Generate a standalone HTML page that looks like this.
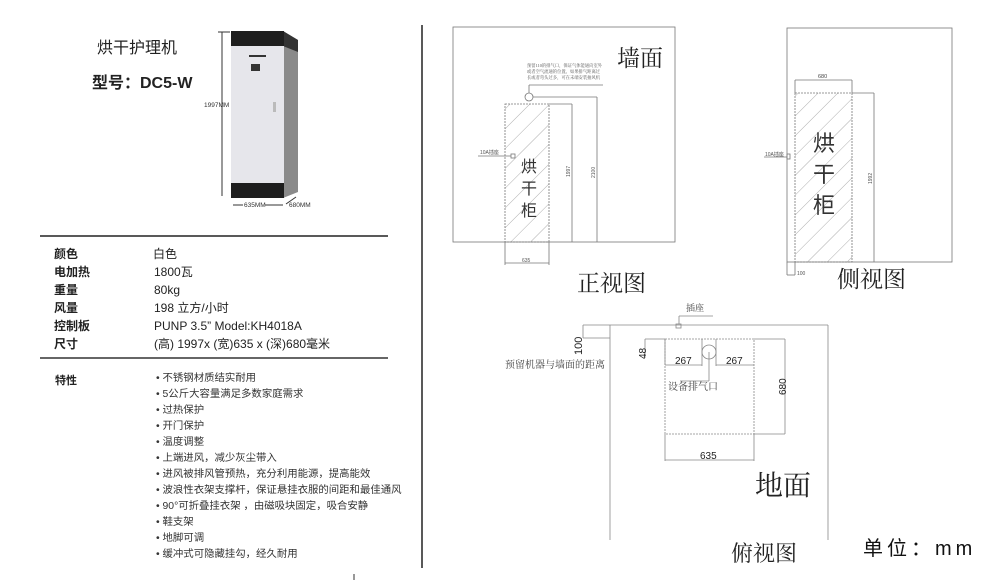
<!DOCTYPE html>
<html><head><meta charset="utf-8"><style>
html,body{margin:0;padding:0;background:#fff;width:1000px;height:584px;overflow:hidden}
svg{display:block}
.s{font-family:"Liberation Sans","Noto Sans CJK SC",sans-serif}
.r{font-family:"Liberation Serif","Noto Serif CJK SC",serif}
</style></head><body>
<svg width="1000" height="584" viewBox="0 0 1000 584" xmlns="http://www.w3.org/2000/svg">
<defs>
<pattern id="h" width="14" height="14" patternUnits="userSpaceOnUse" patternTransform="rotate(45)">
<line x1="0" y1="0" x2="0" y2="14" stroke="#999" stroke-width="0.8"/>
</pattern>
</defs>
<text x="97" y="53" class="s" font-size="16" fill="#222">烘干护理机</text>
<text x="92" y="88" class="s" font-size="16" font-weight="bold" fill="#222">型号：DC5-W</text>
<polygon points="283,31 298,40 298,192 283,198" fill="#8a8a8a"/>
<polygon points="283,31 298,40 298,52 283,46" fill="#333"/>
<rect x="231" y="31" width="53" height="15" fill="#1e1e1e"/>
<rect x="231" y="46" width="53" height="137" fill="#e6e6eb"/>
<rect x="231" y="183" width="53" height="15" fill="#1e1e1e"/>
<rect x="249" y="55" width="17" height="2" fill="#333"/>
<rect x="251" y="64" width="9" height="7" fill="#333"/>
<rect x="273" y="102" width="3" height="10" fill="#bbb"/>
<line x1="222" y1="32" x2="222" y2="196" stroke="#333" stroke-width="1"/>
<line x1="218" y1="32" x2="230" y2="32" stroke="#333"/>
<text x="204" y="107" class="s" font-size="6.5" fill="#333">1997MM</text>
<line x1="233" y1="205" x2="283" y2="205" stroke="#333"/>
<rect x="243" y="201" width="22" height="7" fill="#fff"/>
<text x="244" y="207" class="s" font-size="6.5" fill="#333">635MM</text>
<line x1="286" y1="204" x2="296" y2="197" stroke="#333"/>
<text x="289" y="207" class="s" font-size="6.5" fill="#333">680MM</text>
<line x1="40" y1="236" x2="388" y2="236" stroke="#222" stroke-width="1.5"/>
<line x1="40" y1="358" x2="388" y2="358" stroke="#333" stroke-width="1.5"/>
<g class="s" font-size="12" fill="#222">
<text x="54" y="258" font-weight="bold">颜色</text><text x="153" y="258">白色</text>
<text x="54" y="276" font-weight="bold">电加热</text><text x="154" y="276">1800瓦</text>
<text x="54" y="294" font-weight="bold">重量</text><text x="154" y="294">80kg</text>
<text x="54" y="312" font-weight="bold">风量</text><text x="154" y="312">198 立方/小时</text>
<text x="54" y="330" font-weight="bold">控制板</text><text x="154" y="330">PUNP 3.5”  Model:KH4018A</text>
<text x="54" y="348" font-weight="bold">尺寸</text><text x="154" y="348">(高) 1997x (宽)635 x (深)680毫米</text>
<text x="55" y="384" font-weight="bold" font-size="11">特性</text>
</g>
<g class="s" font-size="10.4" fill="#333">
<text x="156" y="381">• 不锈钢材质结实耐用</text>
<text x="156" y="397">• 5公斤大容量满足多数家庭需求</text>
<text x="156" y="413">• 过热保护</text>
<text x="156" y="429">• 开门保护</text>
<text x="156" y="445">• 温度调整</text>
<text x="156" y="461">• 上端进风，减少灰尘带入</text>
<text x="156" y="477">• 进风被排风管预热，充分利用能源，提高能效</text>
<text x="156" y="493">• 波浪性衣架支撑杆，保证悬挂衣服的间距和最佳通风</text>
<text x="156" y="509">• 90°可折叠挂衣架 ，由磁吸块固定，吸合安静</text>
<text x="156" y="525">• 鞋支架</text>
<text x="156" y="541">• 地脚可调</text>
<text x="156" y="557">• 缓冲式可隐藏挂勾，经久耐用</text>
</g>
<line x1="354" y1="574" x2="354" y2="580" stroke="#333"/>
<line x1="422" y1="25" x2="422" y2="568" stroke="#222" stroke-width="1.5"/>
<g stroke="#777" stroke-width="0.8" fill="none">
<rect x="453" y="27" width="222" height="215"/>
<rect x="505" y="104" width="44" height="138" fill="url(#h)" stroke-dasharray="2,1"/>
<line x1="505" y1="242" x2="505" y2="265"/><line x1="549" y1="242" x2="549" y2="265"/>
<line x1="505" y1="263" x2="549" y2="263"/>
<line x1="549" y1="104" x2="572" y2="104"/><line x1="572" y1="104" x2="572" y2="242"/>
<line x1="533" y1="97" x2="597" y2="97"/><line x1="597" y1="97" x2="597" y2="242"/>
<circle cx="529" cy="97" r="4"/>
<line x1="529" y1="93" x2="529" y2="85"/><line x1="529" y1="85" x2="603" y2="85"/>
<line x1="478" y1="156" x2="511" y2="156"/><rect x="511" y="154" width="4" height="4"/>
</g>
<g class="r" font-size="4.3" fill="#555">
<text x="527" y="67">预留110的排气口，保证气体能通向室外</text>
<text x="527" y="73">或者空气流通的位置。如果排气距离过</text>
<text x="527" y="79">长或者弯头过多，可在末端安装抽风机</text>
</g>
<text x="480" y="154" class="s" font-size="5" fill="#555">10A插座</text>
<text x="570" y="177" class="s" font-size="5" fill="#555" transform="rotate(-90 570 177)">1997</text>
<text x="595" y="178" class="s" font-size="5" fill="#555" transform="rotate(-90 595 178)">2100</text>
<text x="522" y="262" class="s" font-size="5" fill="#555">635</text>
<g class="s" font-size="16" fill="#333">
<text x="521" y="172">烘</text><text x="521" y="194">干</text><text x="521" y="216">柜</text>
</g>
<text x="617" y="66" class="r" font-size="23" fill="#222">墙面</text>
<text x="577" y="291" class="r" font-size="23" fill="#222">正视图</text>
<g stroke="#777" stroke-width="0.8" fill="none">
<rect x="787" y="28" width="165" height="234"/>
<rect x="795" y="93" width="57" height="169" fill="url(#h)" stroke-dasharray="2,1"/>
<line x1="795" y1="80" x2="852" y2="80"/><line x1="795" y1="80" x2="795" y2="93"/><line x1="852" y1="80" x2="852" y2="93"/>
<line x1="852" y1="93" x2="874" y2="93"/><line x1="874" y1="93" x2="874" y2="262"/>
<line x1="764" y1="157" x2="787" y2="157"/><rect x="787" y="154" width="3" height="5"/>
<line x1="795" y1="262" x2="795" y2="275"/><line x1="787" y1="275" x2="795" y2="275"/><line x1="787" y1="262" x2="787" y2="275"/>
</g>
<text x="818" y="78" class="s" font-size="5.5" fill="#444">680</text>
<text x="765" y="156" class="s" font-size="5" fill="#555">10A插座</text>
<text x="797" y="275" class="s" font-size="5" fill="#555">100</text>
<text x="872" y="184" class="s" font-size="5" fill="#555" transform="rotate(-90 872 184)">1992</text>
<g class="s" font-size="22" fill="#333">
<text x="813" y="151">烘</text><text x="813" y="182">干</text><text x="813" y="213">柜</text>
</g>
<text x="837" y="287" class="r" font-size="23" fill="#222">侧视图</text>
<g stroke="#888" stroke-width="0.8" fill="none">
<line x1="583" y1="325" x2="828" y2="325"/>
<line x1="610" y1="325" x2="610" y2="540"/>
<line x1="828" y1="325" x2="828" y2="540"/>
<line x1="583" y1="325" x2="583" y2="338"/><line x1="583" y1="338" x2="610" y2="338"/>
<rect x="665" y="339" width="89" height="95" stroke-dasharray="2,1"/>
<line x1="645" y1="339" x2="665" y2="339"/><line x1="645" y1="339" x2="645" y2="358"/>
<line x1="665" y1="339" x2="665" y2="365"/>
<line x1="702" y1="339" x2="702" y2="366"/><line x1="716" y1="339" x2="716" y2="366"/>
<line x1="665" y1="365" x2="702" y2="365"/><line x1="716" y1="365" x2="754" y2="365"/>
<circle cx="709" cy="352" r="7"/>
<line x1="709" y1="352" x2="709" y2="381"/><line x1="680" y1="381" x2="709" y2="381"/>
<line x1="754" y1="339" x2="785" y2="339"/><line x1="754" y1="434" x2="785" y2="434"/><line x1="785" y1="339" x2="785" y2="434"/>
<line x1="665" y1="434" x2="665" y2="461"/><line x1="754" y1="434" x2="754" y2="461"/><line x1="665" y1="460" x2="754" y2="460"/>
<line x1="679" y1="316" x2="713" y2="316"/><line x1="679" y1="316" x2="679" y2="324"/>
<rect x="676" y="324" width="5" height="4"/>
</g>
<text x="686" y="311" class="r" font-size="9" fill="#444">插座</text>
<text x="582" y="355" class="s" font-size="11" fill="#222" transform="rotate(-90 582 355)">100</text>
<text x="505" y="368" class="r" font-size="10" fill="#444">预留机器与墙面的距离</text>
<text x="646" y="359" class="s" font-size="10" fill="#222" transform="rotate(-90 646 359)">48</text>
<text x="675" y="364" class="s" font-size="10" fill="#222">267</text>
<text x="726" y="364" class="s" font-size="10" fill="#222">267</text>
<text x="668" y="390" class="r" font-size="10" fill="#444">设备排气口</text>
<text x="786" y="395" class="s" font-size="10" fill="#222" transform="rotate(-90 786 395)">680</text>
<text x="700" y="459" class="s" font-size="10" fill="#222">635</text>
<text x="755" y="495" class="r" font-size="28" fill="#222">地面</text>
<text x="731" y="561" class="r" font-size="22" fill="#222">俯视图</text>
<text x="863" y="555" class="s" font-size="20" fill="#111" letter-spacing="4">单位：mm</text>
</svg>
</body></html>
